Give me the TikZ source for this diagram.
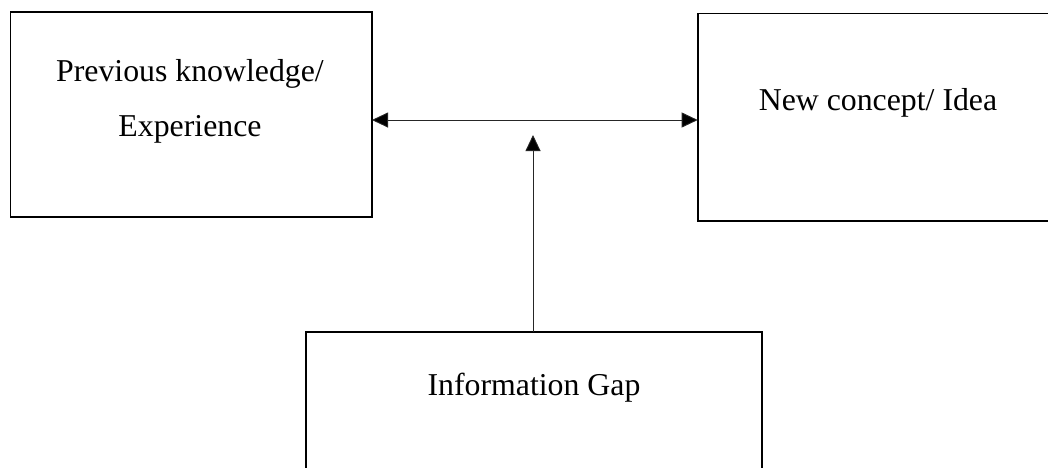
\documentclass[tikz,border=0pt]{standalone}
\usepackage{fontspec}
\setmainfont{Liberation Serif}
\usetikzlibrary{arrows.meta}
\begin{document}
\begin{tikzpicture}[x=1pt,y=-1pt,
  box/.style={draw=black, line width=1.6pt, rectangle, inner sep=0pt, outer sep=0pt},
  lbl/.style={font=\fontsize{31.8}{55}\selectfont, inner sep=0pt, align=center},
  conn/.style={draw=black!85, line width=0.9pt, -{Triangle[length=16pt,width=15pt,fill=black]}},
  conn2/.style={draw=black!85, line width=0.9pt, {Triangle[length=16pt,width=15pt,fill=black]}-{Triangle[length=16pt,width=15pt,fill=black]}}]
\useasboundingbox (0,0) rectangle (1048,467);
\clip (0,0) rectangle (1048,467);
\fill[white] (0,0) rectangle (1048,467);
\node[box, minimum width=361.5pt, minimum height=205pt] (prev) at (191.25,114.5) {};
\node[box, minimum width=362pt, minimum height=207.4pt] (new) at (878.7,117) {};
\node[box, minimum width=456pt, minimum height=160pt] (gap) at (534,412) {};
\node[lbl, anchor=base] (prevt1) at (190,81) {Previous knowledge/};
\node[lbl, anchor=base] (prevt2) at (190,136) {Experience};
\node[lbl, anchor=base] (newt) at (878,110) {New concept/ Idea};
\node[lbl, anchor=base] (gapt) at (534,395) {Information Gap};
\coordinate (hy) at (0,120);
\coordinate (tip) at (533,135);
\draw[conn2] (prev.east |- hy) -- (new.west |- hy);
\draw[conn] (gap.north -| tip) -- (tip);
\end{tikzpicture}
\end{document}
